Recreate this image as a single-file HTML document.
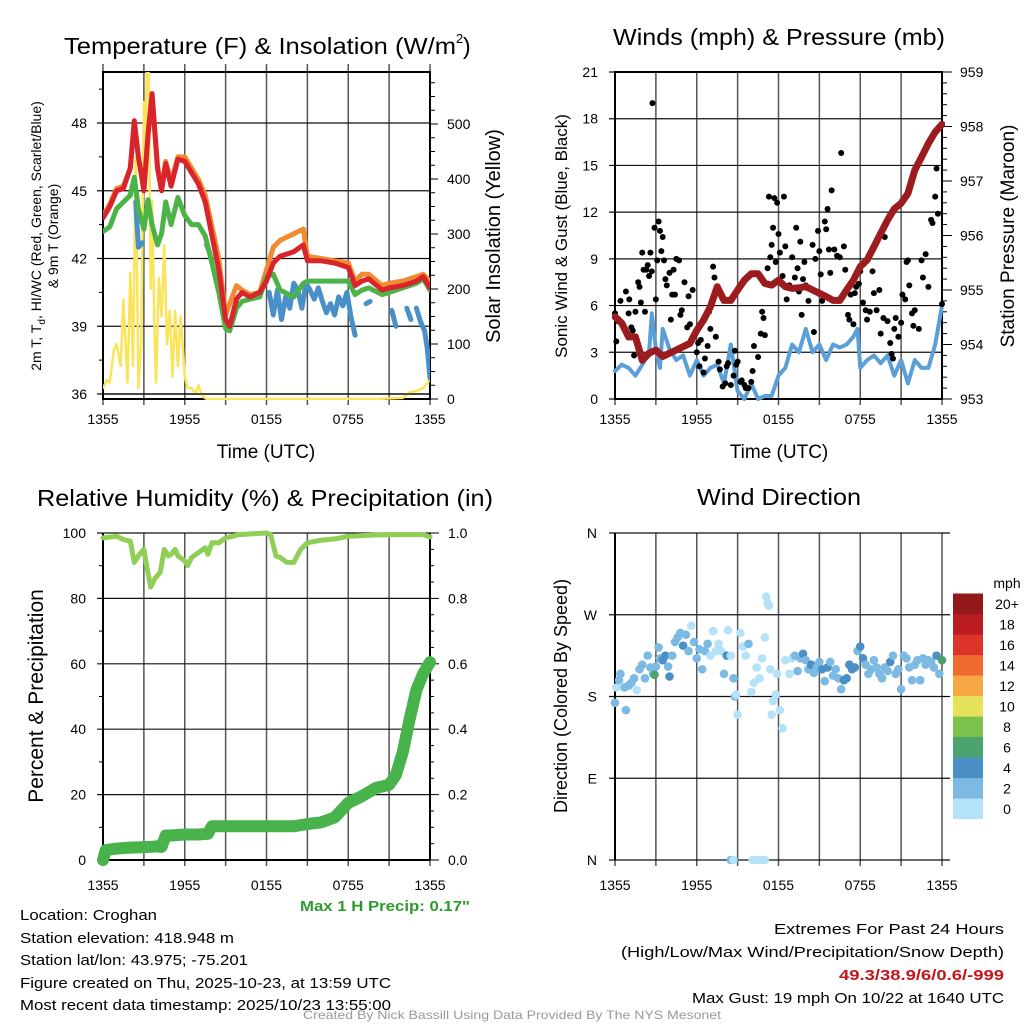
<!DOCTYPE html>
<html><head><meta charset="utf-8"><style>
html,body{margin:0;padding:0;background:#fff;}
svg{display:block;font-family:"Liberation Sans",sans-serif;}
</style></head><body>
<svg id="s" width="1024" height="1024" viewBox="0 0 1024 1024" xmlns="http://www.w3.org/2000/svg">
<defs>
<clipPath id="c1"><rect x="103" y="72" width="327" height="328"/></clipPath>
<clipPath id="c2"><rect x="612" y="68" width="333" height="334"/></clipPath>
<clipPath id="c3"><rect x="95" y="525" width="345" height="345"/></clipPath>
</defs>
</svg>
<script>
// ---------- data ----------
const tempT=[0,0.5,1,1.5,2,2.3,2.6,3,3.3,3.6,4,4.3,4.6,5,5.5,6,6.5,7,7.5,8,8.5,9,9.3,9.8,10.2,10.8,11.5,12,12.5,13,14,14.7,15,16,17,18,18.5,19,19.5,20.5,21,22,23,23.5,24];
const tempRed=[43.8,44.3,45.0,45.1,46.0,48.1,46.5,45.0,47.5,49.3,46.0,45.0,46.2,45.2,46.4,46.3,45.8,45.3,44.5,43.0,41.5,39.3,39.0,40.2,40.5,40.3,40.5,41.0,41.8,42.1,42.3,42.6,41.9,41.9,41.8,41.6,40.8,41.0,41.1,40.6,40.7,40.8,41.0,41.2,40.7];
const tempOrange=[43.9,44.4,45.1,45.2,46.0,48.0,46.5,45.1,47.4,49.2,46.1,45.1,46.3,45.4,46.5,46.5,46.0,45.5,44.8,43.4,42.0,39.5,40.0,40.8,40.6,40.4,40.5,41.5,42.5,42.8,43.1,43.3,42.1,42.0,41.9,41.8,41.0,41.3,41.3,40.8,40.9,41.0,41.2,41.3,41.0];
const tempGreen=[43.2,43.4,44.2,44.5,44.8,45.6,44.2,43.3,44.6,43.5,42.6,43.1,44.5,43.5,44.7,43.9,43.5,43.5,43.0,41.8,40.5,38.9,38.8,39.8,40.1,40.2,40.3,41.2,41.3,40.6,40.3,40.9,41.0,41.0,41.0,41.0,40.4,40.6,40.7,40.4,40.5,40.7,40.9,41.1,40.6];
const blueT=[2.4,2.6,2.9,null,7.6,7.8,8.0,null,12.2,12.5,12.8,13.1,13.4,13.7,14.0,14.3,14.6,14.9,15.2,15.5,15.8,16.1,16.4,16.7,17.0,17.3,17.6,17.9,18.2,18.5,null,19.3,19.6,null,21.2,21.5,null,22.3,22.6,null,23.0,23.3,23.6,23.8,24];
const blueV=[44.5,42.5,42.7,null,42.6,42.3,41.8,null,40.5,39.5,40.6,39.3,40.3,39.8,40.9,40.6,39.8,40.9,40.6,40.2,40.7,40.1,39.6,40.0,39.5,40.3,39.9,40.5,39.4,38.6,null,40.0,40.1,null,39.7,39.0,null,39.8,39.3,null,39.8,39.2,38.8,38.0,36.7];
const solarT=[0,0.3,0.5,0.8,1,1.3,1.5,1.8,2.0,2.2,2.4,2.6,2.8,3.0,3.1,3.2,3.35,3.5,3.6,3.8,3.9,4.1,4.3,4.5,4.7,4.9,5.1,5.3,5.5,5.7,6.0,6.2,6.5,6.8,7.0,7.3,7.6,8,10,14,20,22,22.5,23,23.5,24];
const solarV=[20,35,30,90,100,60,180,30,230,60,440,20,100,540,380,600,620,200,360,100,30,220,150,280,100,160,40,160,60,150,40,20,20,10,25,5,0,0,0,0,0,2,12,15,20,35];
const windT=[0,0.5,1,1.5,2,2.5,2.7,3,3.3,3.5,4,4.5,5,5.5,6,6.5,7,7.5,8,8.5,9,9.5,10,10.5,11,11.5,12,12.5,13,13.5,14,14.5,15,15.5,16,16.5,17,17.5,17.8,18,18.5,19,19.5,20,20.5,21,21.5,22,22.5,23,23.5,24];
const windV=[1.8,2.2,2.0,1.5,2.2,3.0,5.5,3.2,2.0,4.5,3.2,2.5,2.8,1.5,2.5,1.5,2.0,2.2,1.0,3.5,0.5,0.0,1.0,0.0,0.2,0.2,1.5,2.0,3.5,3.0,4.5,3.0,3.5,2.5,3.5,3.3,3.5,4.0,4.5,2.0,2.5,2.8,2.3,2.8,1.5,2.5,1.0,2.5,2.0,2.0,3.5,6.0];
const gustT=[0,0.1,0.2,0.4,0.5,0.7,0.8,1.0,1.05,1.2,1.3,1.4,1.5,1.7,1.8,1.9,2.0,2.1,2.2,2.3,2.4,2.5,2.6,2.7,2.75,2.9,3.0,3.1,3.2,3.3,3.4,3.5,3.6,3.7,3.8,4.0,4.1,4.2,4.3,4.4,4.5,4.7,4.8,4.9,5.1,5.3,5.4,5.5,5.7,6.0,6.1,6.2,6.3,6.5,6.6,6.8,6.9,7.0,7.2,7.3,7.4,7.6,7.7,7.9,8.1,8.2,8.3,8.5,8.7,8.8,8.9,9.0,9.2,9.3,9.5,9.6,9.8,10.0,10.1,10.2,10.5,10.7,10.8,10.9,11.0,11.2,11.3,11.4,11.5,11.6,11.7,11.8,11.9,12.0,12.1,12.3,12.4,12.5,12.6,12.8,13.0,13.2,13.3,13.4,13.5,13.6,13.7,13.8,13.9,14.0,14.2,14.5,14.6,14.7,14.9,15.0,15.1,15.2,15.4,15.5,15.6,15.7,15.8,15.9,16.1,16.3,16.5,16.6,16.8,16.9,17.0,17.1,17.2,17.3,17.5,17.6,17.7,17.9,18.0,18.2,18.4,18.5,18.7,18.9,19.0,19.2,19.4,19.5,19.7,19.8,20.0,20.2,20.3,20.4,20.5,20.6,20.8,21.0,21.1,21.3,21.4,21.5,21.6,21.8,21.9,22.0,22.3,22.5,22.6,22.8,23.0,23.2,23.3,23.5,23.6,23.7,24.0];
const gustV=[5.5,3.7,5.0,6.3,4.8,4.5,6.9,5.5,6.4,4.6,4.4,2.8,5.6,7.5,7.2,6.2,9.4,8.3,5.6,8.3,8.6,7.9,9.4,8.2,19.0,11.0,6.4,8.9,11.4,10.8,9.5,10.4,8.9,7.7,7.3,8.1,5.1,6.7,8.3,6.7,9.0,8.9,5.4,5.7,7.5,4.6,6.6,4.8,7.0,3.0,3.6,2.1,3.8,1.7,2.6,3.4,5.6,4.5,8.5,7.8,4.0,2.4,1.9,0.8,1.0,2.1,2.3,0.9,1.5,3.1,2.2,2.4,1.1,1.2,0.9,0.7,0.7,1.1,1.8,3.4,2.7,4.2,5.6,5.2,4.1,8.4,13.0,9.1,9.9,11.0,12.9,8.8,12.6,10.6,9.4,7.9,13.0,9.8,6.4,7.3,9.1,7.8,11.0,8.4,6.9,10.1,5.4,7.7,8.8,7.3,6.3,9.9,4.3,9.0,10.8,9.5,8.0,6.3,11.4,10.9,12.2,9.6,8.1,13.4,9.6,9.2,9.1,15.8,9.8,8.3,6.9,5.4,5.1,6.7,4.8,6.8,7.2,7.4,8.2,6.2,5.7,5.1,5.6,8.2,6.8,5.7,7.0,4.2,5.2,10.4,5.0,3.6,2.9,2.6,4.5,5.2,4.0,4.9,6.7,6.4,8.8,8.9,7.3,5.5,4.7,5.7,4.5,8.9,7.8,9.3,7.2,11.5,11.3,13.0,14.8,11.9,6.1];
const presT=[0,0.5,1,1.5,2,2.5,3,3.5,4,4.5,5,5.5,6,6.5,7,7.5,8,8.5,9,9.5,10,10.5,11,11.5,12,12.5,13,13.5,14,14.5,15,15.5,16,16.5,17,17.5,18,18.5,19,19.5,20,20.5,21,21.5,22,22.5,23,23.5,24];
const presV=[954.51,954.39,954.14,954.14,953.71,953.84,953.90,953.78,953.84,953.90,953.96,954.02,954.26,954.45,954.69,955.06,954.81,954.81,955.0,955.18,955.30,955.30,955.12,955.09,955.18,955.06,955.03,955.04,955.06,955.0,954.94,954.88,954.81,954.81,955.0,955.18,955.43,955.55,955.79,956.04,956.28,956.49,956.59,956.77,957.2,957.44,957.69,957.9,958.04];
const rhT=[0,1,1.5,2,2.3,2.6,3,3.2,3.5,3.8,4.2,4.5,4.8,5,5.3,5.5,6,6.2,6.5,7,7.5,7.7,8,8.5,9,10,11,12,12.3,12.7,13,13.5,14,14.5,15,16,17,18,19,20,22,23.5,24];
const rhV=[98.5,99,98,97.5,91,93,95,90,83.5,86,88,95,93,93.5,95,93,91.5,90,92.5,94,95.5,93.5,97,97,98.5,99.5,99.8,100,99.5,93,92.5,91,91,95,97,97.8,98.2,99,99.2,99.4,99.5,99.5,98.8];
const prT=[0,0.2,1,2,3.5,4,4.3,4.6,5,6,7,7.7,8,10,12,14,15,16,17,18,19,20,21,21.5,22,22.5,23,23.5,24];
const prV=[0,0.03,0.035,0.038,0.04,0.042,0.04,0.075,0.075,0.078,0.078,0.08,0.103,0.103,0.103,0.103,0.11,0.115,0.13,0.175,0.195,0.22,0.23,0.26,0.33,0.43,0.52,0.57,0.605];
const dirT=[0,0.1,0.3,0.4,0.7,0.8,1.0,1.2,1.4,1.6,1.8,2.0,2.2,2.4,2.6,2.8,2.9,3.0,3.2,3.3,3.5,3.7,3.9,4.0,4.2,4.4,4.6,4.8,5.0,5.2,5.4,5.6,5.8,6.0,6.2,6.4,6.6,6.8,7.0,7.2,7.4,7.6,7.8,8.0,8.2,8.3,8.5,8.7,8.8,8.9,9.0,9.2,9.4,9.6,9.8,10.0,10.2,10.4,10.6,10.8,11.0,11.1,11.2,11.3,11.4,11.5,11.6,11.8,11.9,12.1,12.3,12.5,12.8,13.0,13.2,13.4,13.6,13.8,14.0,14.2,14.4,14.6,14.8,15.0,15.2,15.4,15.6,15.8,16.0,16.2,16.4,16.6,16.8,17.0,17.2,17.4,17.6,17.8,18.0,18.2,18.4,18.6,18.8,19.0,19.2,19.4,19.6,19.8,20.0,20.2,20.4,20.6,20.8,21.0,21.2,21.4,21.6,21.8,22.0,22.2,22.4,22.6,22.8,23.0,23.2,23.4,23.6,23.8,24.0,8.5,8.7,10.1,10.4,10.6,10.8,11.0];
const dirV=[173,190,198,205,190,165,192,195,200,187,210,215,200,225,212,205,204,213,234,222,220,225,213,202,225,240,245,250,236,248,230,258,240,222,232,210,230,238,225,252,230,238,230,205,225,253,225,200,180,182,160,250,235,225,238,185,195,212,200,222,245,290,283,280,210,160,175,182,205,165,145,220,205,222,225,208,222,227,220,210,215,206,212,218,210,197,212,218,203,210,200,188,198,200,215,210,212,230,235,222,215,205,210,220,212,205,200,212,208,218,225,205,210,188,225,222,212,198,215,220,198,222,215,220,218,212,225,205,220,0,0,0,0,0,0,0];
const dirS=[3,1,2.5,2.5,2.5,3.5,2.5,2.5,2.5,1,2.5,2.5,2.5,2.5,2.5,2.5,6.5,3.5,3.5,3.5,4.5,4.5,3.5,4.5,3.5,2.5,2.5,2.5,4.5,2.5,2.5,1,3.5,2.5,3.5,2.5,2.5,2.5,1,1,1,1,1,3.5,4.5,1,1,2.5,3.5,1,1,1,1,1,2.5,1,1,1,1,1,1,1,1,1,1,1,1,1,1,1,1,1,1,1,2.5,3.5,3.5,4.5,3.5,3.5,4.5,3.5,3.5,2.5,4.5,3.5,4.5,3.5,2.5,3.5,2.5,2.5,4.5,4.5,4.5,4.5,4.5,3.5,4.5,4.5,2.5,2.5,2.5,2.5,2.5,2.5,2.5,2.5,2.5,4.5,2.5,2.5,3.5,2.5,2.5,2.5,2.5,2.5,2.5,2.5,2.5,2.5,2.5,3.5,2.5,3.5,4.5,2.5,6.5,2.5,1,1,1,1,1,1,1];
const xLabels=["1355","1955","0155","0755","1355"];
const tempTicks=[36,39,42,45,48];
const solarTicks=[0,100,200,300,400,500];
const windTicks=[0,3,6,9,12,15,18,21];
const presTicks=[953,954,955,956,957,958,959];
const rhTicks=[0,20,40,60,80,100];
const prTicks=["0.0","0.2","0.4","0.6","0.8","1.0"];
const dirLabels=["N","E","S","W","N"];
const cbLabels=["0","2","4","6","8","10","12","14","16","18","20+"];
const cbColors=["#b4e2f8","#7cb9e3","#4a8fc6","#4aa46f","#7bc14c","#e6e25b","#f5a844","#ef6a2e","#dc3428","#bb1c22","#921819"];

// ---------- helpers ----------
const S=document.getElementById('s');const NS="http://www.w3.org/2000/svg";
function el(tag,attrs,parent){const e=document.createElementNS(NS,tag);for(const k in attrs)e.setAttribute(k,attrs[k]);(parent||S).appendChild(e);return e;}
function txt(str,x,y,o,name,parent){const e=el('text',Object.assign({x:x,y:y,'font-size':14,fill:'#000'},o||{}),parent);e.textContent=str;

return e;}
function lin(d0,d1,p0,p1){return v=>p0+(v-d0)/(d1-d0)*(p1-p0);}
const L=103,R=430,L2=615,R2=942;
const xa=lin(0,24,L,R), xb=lin(0,24,L2,R2);
function pathD(T,V,fx,fy){let d="",pen=false;for(let i=0;i<T.length;i++){if(T[i]===null||V[i]===null){pen=false;continue;}d+=(pen?"L":"M")+fx(T[i]).toFixed(1)+","+fy(V[i]).toFixed(1);pen=true;}return d;}
function grid(x0,x1,top,bot,hs,vExt){
 const g=el('g',{});
 for(let i=0;i<=8;i++){const x=x0+(x1-x0)*i/8;el('line',{x1:x,x2:x,y1:top-vExt,y2:bot+6,stroke:'#555','stroke-width':1.5},g);}
 hs.forEach(y=>el('line',{x1:x0-6,x2:x1,y1:y,y2:y,stroke:'#111','stroke-width':1.2},g));
}
function xlab(x0,x1,y){xLabels.forEach((s,i)=>txt(s,x0+(x1-x0)*i/4,y,{'text-anchor':'middle','font-size':14},'x-tick-label'));}
function series(d,stroke,w,name,clip){const p=el('path',{d:d,fill:'none',stroke:stroke,'stroke-width':w,'stroke-linejoin':'round','stroke-linecap':'round','clip-path':'url(#'+clip+')'});

return p;}

// ---------- Panel 1: temperature ----------
const yt=lin(36,48,394,123), ys=lin(0,500,399,124);
grid(L,R,72,399,tempTicks.map(yt),8);
el('rect',{x:L,y:72,width:R-L,height:327,fill:'none',stroke:'#000','stroke-width':2});
for(let v=0;v<=575;v+=25)el('line',{x1:R,x2:R+(v%100==0?8:5),y1:ys(v),y2:ys(v),stroke:'#000'});
for(let v=37.5;v<=49.5;v+=1.5)if(v%3)el('line',{x1:L-4,x2:L,y1:yt(v),y2:yt(v),stroke:'#000'});
tempTicks.forEach(v=>txt(String(v),87,yt(v)+5,{'text-anchor':'end','font-size':14},'temp-tick-label'));
solarTicks.forEach(v=>txt(String(v),447,ys(v)+5,{'font-size':14},'solar-tick-label'));
series(pathD(solarT,solarV,xa,ys),'#f9e45a',2.5,'solar-line','c1');
series(pathD(blueT,blueV,xa,yt),'#4a90c8',5,'windchill-line','c1');
series(pathD(tempT,tempOrange,xa,yt),'#f28a30',5,'temp-9m-line','c1');
series(pathD(tempT,tempGreen,xa,yt),'#4bb348',5,'dewpoint-line','c1');
series(pathD(tempT,tempRed,xa,yt),'#d8242a',5,'temp-2m-line','c1');
el('line',{x1:L,x2:R,y1:394,y2:394,stroke:'#000','stroke-width':1.2});
xlab(L,R,424);
txt("Temperature (F) & Insolation (W/m",64,54,{'font-size':23,textLength:392,lengthAdjust:'spacingAndGlyphs'},'temp-panel-title');
txt("2",456,43,{'font-size':13},'title-superscript');txt(")",463,54,{'font-size':23},'title-paren');
txt("Time (UTC)",266,458,{'text-anchor':'middle','font-size':19},'x-axis-title');
const yl=el('text',{x:0,y:0,'font-size':14,'text-anchor':'middle',transform:'translate(41,236) rotate(-90)'});


yl.innerHTML='2m T, T<tspan font-size="10" dy="4">d</tspan><tspan dy="-4">, HI/WC (Red, Green, Scarlet/Blue)</tspan>';
txt("& 9m T (Orange)",0,0,{'font-size':14,'text-anchor':'middle',transform:'translate(58,236) rotate(-90)'},'temp-y-title-2');
txt("Solar Insolation (Yellow)",0,0,{'font-size':20,'text-anchor':'middle',transform:'translate(500,236) rotate(-90)'},'solar-y-title');

// ---------- Panel 2: winds ----------
const yw=lin(0,21,399,72), yp=lin(953,959,399,72);
grid(L2,R2,72,399,windTicks.map(yw),0);
el('rect',{x:L2,y:72,width:R2-L2,height:327,fill:'none',stroke:'#000','stroke-width':2});
for(let v=953;v<=959.01;v+=0.2)el('line',{x1:R2,x2:R2+(Math.abs(v-Math.round(v))<0.01?10:5),y1:yp(v),y2:yp(v),stroke:'#000'});
windTicks.forEach(v=>txt(String(v),598,yw(v)+5,{'text-anchor':'end','font-size':14},'wind-tick-label'));
presTicks.forEach(v=>txt(String(v),960,yp(v)+5,{'font-size':14},'pressure-tick-label'));
series(pathD(windT,windV,xb,yw),'#5b9fd6',4,'sustained-wind-line','c2');
gustT.forEach((t,i)=>{const c=el('circle',{cx:xb(t),cy:yw(gustV[i]),r:3,fill:'#000'});

});
series(pathD(presT,presV,xb,yp),'#9c1b1e',7,'pressure-line','c2');
xlab(L2,R2,424);
txt("Winds (mph) & Pressure (mb)",613,45,{'font-size':23,textLength:332,lengthAdjust:'spacingAndGlyphs'},'wind-panel-title');
txt("Time (UTC)",779,458,{'text-anchor':'middle','font-size':19},'x-axis-title');
txt("Sonic Wind & Gust (Blue, Black)",0,0,{'font-size':17,'text-anchor':'middle',transform:'translate(567,236) rotate(-90)'},'wind-y-title');
txt("Station Pressure (Maroon)",0,0,{'font-size':19,'text-anchor':'middle',transform:'translate(1014,236) rotate(-90)'},'pressure-y-title');

// ---------- Panel 3: RH & precip ----------
const yr=lin(0,100,860,533);
grid(L,R,533,860,rhTicks.map(yr),0);
el('line',{x1:L,x2:L,y1:533,y2:860,stroke:'#000','stroke-width':2});
el('line',{x1:R,x2:R,y1:533,y2:860,stroke:'#000','stroke-width':2});
el('line',{x1:L,x2:R,y1:860,y2:860,stroke:'#000','stroke-width':2});
for(let v=0;v<=100;v+=5)el('line',{x1:R,x2:R+(v%20==0?9:4),y1:yr(v),y2:yr(v),stroke:'#000'});
for(let v=10;v<=90;v+=20)el('line',{x1:L-4,x2:L,y1:yr(v),y2:yr(v),stroke:'#000'});
rhTicks.forEach(v=>txt(String(v),86,yr(v)+5,{'text-anchor':'end','font-size':14},'rh-tick-label'));
prTicks.forEach((s,i)=>txt(s,448,yr(i*20)+5,{'font-size':14},'precip-tick-label'));
series(pathD(rhT,rhV,xa,yr),'#8fcf55',5,'rh-line','c3');
series(pathD(prT,prV.map(v=>v*100),xa,yr),'#48b24b',12,'precip-line','c3');
xlab(L,R,890);
txt("Relative Humidity (%) & Precipitation (in)",37,506,{'font-size':23,textLength:456,lengthAdjust:'spacingAndGlyphs'},'rh-panel-title');
txt("Percent & Precipitation",0,0,{'font-size':21,'text-anchor':'middle',transform:'translate(43,696) rotate(-90)'},'rh-y-title');
txt('Max 1 H Precip: 0.17"',470,911,{'text-anchor':'end','font-size':15,'font-weight':'bold',fill:'#2e9a2e',textLength:170,lengthAdjust:'spacingAndGlyphs'},'max-precip-note');

// ---------- Panel 4: wind direction ----------
const yd=lin(0,360,860,533);
grid(L2,R2,533,860,[0,90,180,270,360].map(yd),0);
[0,90,180,270,360].forEach(v=>el('line',{x1:R2,x2:R2+8,y1:yd(v),y2:yd(v),stroke:'#000','stroke-width':1.2}));
el('line',{x1:L2,x2:L2,y1:533,y2:860,stroke:'#000','stroke-width':2});
dirLabels.forEach((s,i)=>txt(s,597,yd(i*90)+5,{'text-anchor':'end','font-size':14},'direction-tick-label'));
dirT.forEach((t,i)=>{const c=el('circle',{cx:xb(t),cy:yd(dirV[i]),r:4.3,fill:cbColors[Math.min(10,Math.floor(dirS[i]/2))]});

});
xlab(L2,R2,890);
txt("Wind Direction",779,505,{'text-anchor':'middle','font-size':23,textLength:164,lengthAdjust:'spacingAndGlyphs'},'direction-panel-title');
txt("Direction (Colored By Speed)",0,0,{'font-size':18,'text-anchor':'middle',transform:'translate(567,696) rotate(-90)'},'direction-y-title');
cbColors.forEach((c,i)=>{const r=el('rect',{x:953,y:819-(i+1)*20.5,width:30,height:20.6,fill:c});


txt(cbLabels[i],1007,819-i*20.5-5,{'text-anchor':'middle','font-size':14},'colorbar-label');});
txt("mph",1007,588,{'text-anchor':'middle','font-size':14},'colorbar-title');

// ---------- footer ----------
const fl=[["Location: Croghan",920,137],["Station elevation: 418.948 m",943,214],["Station lat/lon: 43.975; -75.201",965,228],["Figure created on Thu, 2025-10-23, at 13:59 UTC",988,371],["Most recent data timestamp: 2025/10/23 13:55:00",1010,371]];
fl.forEach(f=>txt(f[0],20,f[1],{'font-size':15,textLength:f[2],lengthAdjust:'spacingAndGlyphs'},'station-info'));
txt("Extremes For Past 24 Hours",1004,934,{'text-anchor':'end','font-size':15,textLength:230,lengthAdjust:'spacingAndGlyphs'},'extremes-title');
txt("(High/Low/Max Wind/Precipitation/Snow Depth)",1004,957,{'text-anchor':'end','font-size':15,textLength:383,lengthAdjust:'spacingAndGlyphs'},'extremes-legend');
txt("49.3/38.9/6/0.6/-999",1004,980,{'text-anchor':'end','font-size':15,'font-weight':'bold',fill:'#c4161c',textLength:165,lengthAdjust:'spacingAndGlyphs'},'extremes-values');
txt("Max Gust: 19 mph On 10/22 at 1640 UTC",1004,1003,{'text-anchor':'end','font-size':15,textLength:312,lengthAdjust:'spacingAndGlyphs'},'max-gust');
txt("Created By Nick Bassill Using Data Provided By The NYS Mesonet",512,1019,{'text-anchor':'middle','font-size':12,fill:'#999',textLength:418,lengthAdjust:'spacingAndGlyphs'},'credit');
</script>
</body></html>
